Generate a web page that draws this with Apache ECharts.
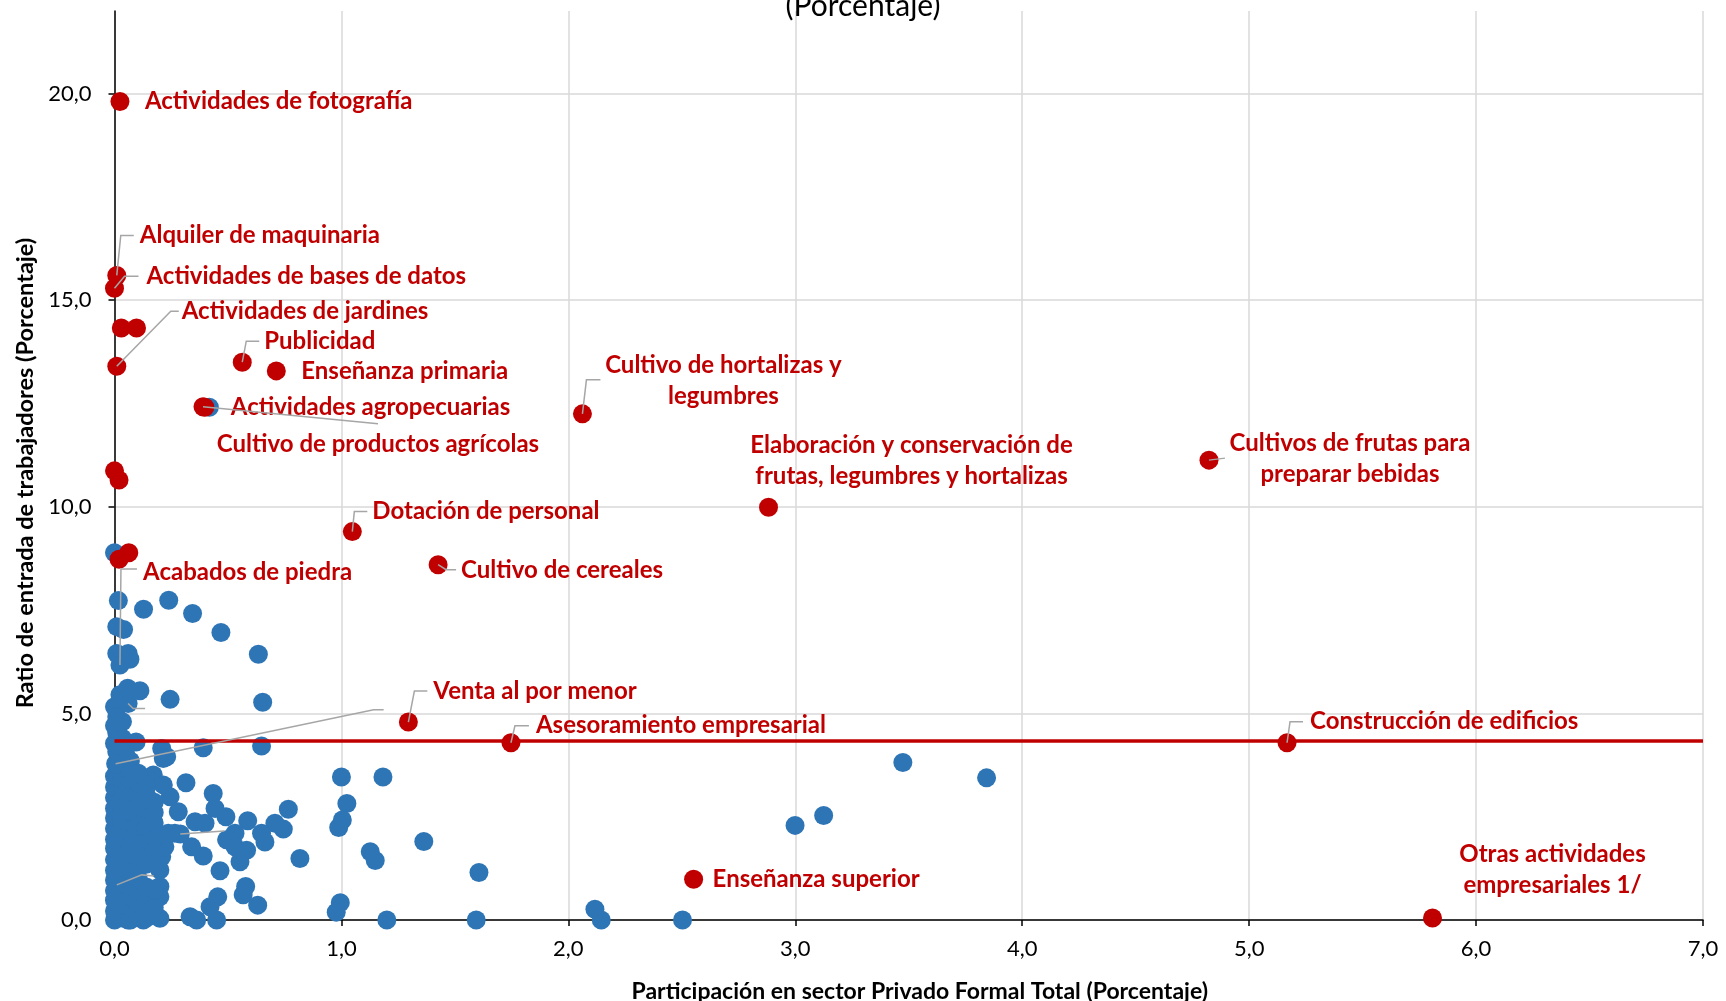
<!DOCTYPE html>
<html><head><meta charset="utf-8">
<script src="https://cdn.jsdelivr.net/npm/echarts@6/dist/echarts.min.js"></script>
<style>html,body{margin:0;padding:0;background:#fff}#c{width:1726px;height:1001px}</style>
</head><body><div id="c"></div>
<script>
// ---------- DATA ----------
const xTicks = [0, 1, 2, 3, 4, 5, 6, 7];
const yTicks = [0, 5, 10, 15, 20];
const yMax = 22;
const avgRatio = 4.33;

const highlightNames = [
  'Actividades de fotografía', 'Alquiler de maquinaria', 'Actividades de bases de datos',
  '', '', 'Actividades de jardines', 'Publicidad', 'Enseñanza primaria',
  'Actividades agropecuarias', 'Cultivo de productos agrícolas',
  'Cultivo de hortalizas y\nlegumbres', 'Elaboración y conservación de\nfrutas, legumbres y hortalizas',
  'Cultivos de frutas para\npreparar bebidas', 'Dotación de personal', 'Cultivo de cereales',
  '', '', 'Acabados de piedra', '', 'Venta al por menor', 'Asesoramiento empresarial',
  'Construcción de edificios', 'Enseñanza superior', 'Otras actividades\nempresariales 1/'
];
const highlightX = [0.024, 0.01, 0.0, 0.03, 0.097, 0.01, 0.563, 0.713, 0.398, 0.39,
  2.062, 2.882, 4.823, 1.048, 1.426, 0.0, 0.02, 0.02, 0.063, 1.295, 1.747, 5.167, 2.552, 5.808];
const highlightY = [19.81, 15.6, 15.29, 14.33, 14.33, 13.4, 13.5, 13.29, 12.41, 12.42,
  12.25, 9.99, 11.13, 9.40, 8.60, 10.87, 10.65, 8.73, 8.89, 4.79, 4.29, 4.29, 0.985, 0.05];

const otherPoints = [
  [0.0, 8.89], [0.418, 12.41],
  [0.017, 7.73], [0.128, 7.52], [0.239, 7.74], [0.344, 7.42], [0.469, 6.96], [0.634, 6.43],
  [0.01, 7.10], [0.04, 7.03], [0.01, 6.45], [0.06, 6.45], [0.068, 6.31],
  [0.058, 5.61], [0.112, 5.55], [0.024, 5.45], [0.245, 5.34], [0.653, 5.27], [0.0, 5.16],
  [0.01, 4.92], [0.01, 4.53], [0.095, 4.31], [0.208, 4.15], [0.391, 4.17], [0.648, 4.21],
  [0.01, 4.07], [0.05, 4.0], [0.23, 3.95], [0.215, 3.91],
  [1.0, 3.46], [1.183, 3.46], [1.024, 2.82], [1.004, 2.42], [0.988, 2.24], [1.127, 1.65],
  [1.149, 1.44], [1.363, 1.90], [1.606, 1.15], [0.817, 1.49], [0.995, 0.42], [0.977, 0.19],
  [1.2, 0.0], [1.594, 0.0], [2.117, 0.26], [2.145, 0.0], [2.503, 0.0], [2.999, 2.29],
  [3.125, 2.53], [3.474, 3.81], [3.843, 3.44],
  [0.171, 3.51], [0.215, 3.27], [0.315, 3.32], [0.435, 3.06], [0.245, 2.98], [0.149, 2.94],
  [0.766, 2.68], [0.443, 2.70], [0.491, 2.50], [0.281, 2.62], [0.355, 2.38], [0.399, 2.34],
  [0.587, 2.40], [0.707, 2.34], [0.744, 2.20], [0.648, 2.10], [0.663, 1.89], [0.531, 2.10],
  [0.494, 1.94], [0.531, 1.77], [0.582, 1.69], [0.553, 1.41], [0.391, 1.55], [0.34, 1.77],
  [0.266, 2.10], [0.465, 1.19], [0.578, 0.81], [0.567, 0.61], [0.631, 0.36], [0.455, 0.56],
  [0.421, 0.32], [0.45, 0.0], [0.333, 0.08], [0.362, 0.0], [0.2, 0.04], [0.127, 0.0],
  [0.06, 0.0], [0.2, 0.56], [0.2, 0.81], [0.2, 1.21], [0.208, 1.53], [0.222, 1.77], [0.237, 2.10],
  [0.0, 0.0], [0.0, 0.22], [0.0, 0.48], [0.0, 0.71], [0.0, 0.97], [0.0, 1.2], [0.0, 1.46],
  [0.0, 1.73], [0.0, 1.95], [0.0, 2.21], [0.0, 2.47], [0.0, 2.7], [0.0, 2.96], [0.0, 3.22],
  [0.0, 3.48], [0.0, 4.27], [0.0, 4.7],
  [0.035, 0.05], [0.035, 0.35], [0.035, 0.62], [0.035, 0.9], [0.035, 1.15], [0.035, 1.4],
  [0.035, 1.68], [0.035, 1.9], [0.035, 2.18], [0.035, 2.4], [0.035, 2.66], [0.035, 2.9],
  [0.035, 3.15], [0.035, 3.42], [0.035, 3.68], [0.035, 3.95], [0.035, 4.4], [0.035, 4.8],
  [0.07, 0.0], [0.07, 0.3], [0.07, 0.55], [0.07, 0.82], [0.07, 1.12], [0.07, 1.38],
  [0.07, 1.62], [0.07, 1.88], [0.07, 2.12], [0.07, 2.38], [0.07, 2.62], [0.07, 2.88],
  [0.07, 3.12], [0.07, 3.38], [0.07, 3.62], [0.07, 3.85],
  [0.105, 0.12], [0.105, 0.4], [0.105, 0.68], [0.105, 1.0], [0.105, 1.25], [0.105, 1.55],
  [0.105, 1.8], [0.105, 2.05], [0.105, 2.3], [0.105, 2.55], [0.105, 3.05], [0.105, 3.3], [0.105, 3.55],
  [0.14, 0.05], [0.14, 0.55], [0.14, 0.8], [0.14, 1.35], [0.14, 1.6], [0.14, 1.95],
  [0.14, 2.25], [0.14, 2.5], [0.14, 2.7], [0.14, 3.2],
  [0.175, 0.3], [0.175, 0.75], [0.175, 1.4], [0.175, 1.7], [0.175, 2.0], [0.175, 2.35],
  [0.175, 2.6], [0.175, 2.85]
];
// blue points that carry an empty leader line (label removed in the original)
const leaderOnlyPoints = [[0.024, 6.17], [0.005, 3.78], [0.29, 2.08], [0.01, 0.85], [0.06, 5.24]];

// ---------- LABEL / LEADER LAYOUT (pixel offsets from the point) ----------
const labelLayoutByName = {
  'Actividades de fotografía': { dx: 25, dy: 0 },
  'Alquiler de maquinaria': { dx: 23, dy: -40, line: [[4, -40], [17, -40]] },
  'Actividades de bases de datos': { dx: 32, dy: -12, line: [[10, -12], [24, -12]] },
  'Actividades de jardines': { dx: 65, dy: -55, line: [[54, -55], [62, -55]] },
  'Publicidad': { dx: 22, dy: -21, line: [[4, -21], [17, -21]] },
  'Enseñanza primaria': { dx: 25, dy: 0 },
  'Actividades agropecuarias': { dx: 26, dy: 0 },
  'Cultivo de productos agrícolas': { dx: 175, dy: 37, align: 'center', line: [[175, 17]] },
  'Cultivo de hortalizas y\nlegumbres': { dx: 141, dy: -33, align: 'center', line: [[4, -34], [18, -34]] },
  'Elaboración y conservación de\nfrutas, legumbres y hortalizas': { dx: 143, dy: -46, align: 'center' },
  'Cultivos de frutas para\npreparar bebidas': { dx: 141, dy: -1, align: 'center', line: [[16, -2]] },
  'Dotación de personal': { dx: 20, dy: -20, line: [[2, -20], [15, -20]] },
  'Cultivo de cereales': { dx: 23, dy: 6, line: [[8, 5], [18, 5]] },
  'Acabados de piedra': { dx: 24, dy: 13 },
  'Venta al por menor': { dx: 25, dy: -31, line: [[6, -31], [19, -31]] },
  'Asesoramiento empresarial': { dx: 25, dy: -17, line: [[4, -17], [18, -17]] },
  'Construcción de edificios': { dx: 23, dy: -21, line: [[3, -21], [16, -21]] },
  'Enseñanza superior': { dx: 19, dy: 0 },
  'Otras actividades\nempresariales 1/': { dx: 120, dy: -48, align: 'center' }
};
const emptyLeaderLines = [
  [[1, -96], [17, -96]],
  [[258, -54], [268, -54]],
  [[44, -3]],
  [[25, -10], [37, -9]],
  [[5, 5], [17, 5]]
];

// ---------- CHART ----------
const RED = '#C00000', BLUE = '#2E75B6';
const FONT = 'Lato';
const fmt = v => v.toFixed(1).replace('.', ',');
const highlightData = highlightNames.map((n, i) => ({ name: n, value: [highlightX[i], highlightY[i]] }));

const chart = echarts.init(document.getElementById('c'), null, { renderer: 'canvas' });
const option = {
  animation: false,
  backgroundColor: '#fff',
  textStyle: { fontFamily: FONT },
  title: {
    text: '(Porcentaje)', left: 'center', top: -14,
    textStyle: { fontFamily: FONT, fontSize: 30, fontWeight: 'normal', color: '#000' }
  },
  grid: { left: 114.5, right: 23, top: 11, bottom: 81, outerBoundsMode: 'none', containLabel: false },
  xAxis: {
    type: 'value', min: xTicks[0], max: xTicks[xTicks.length - 1], interval: 1,
    name: 'Participación en sector Privado Formal Total (Porcentaje)',
    nameLocation: 'middle', nameGap: 60,
    nameTextStyle: { fontFamily: FONT, fontSize: 23, fontWeight: 'bold', color: '#000', padding: [0, 0, 0, 22] },
    axisLine: { show: true, onZero: false, lineStyle: { color: '#000', width: 1.5 } },
    axisTick: { show: true, length: 6, lineStyle: { color: '#000', width: 1.5 } },
    axisLabel: { formatter: fmt, fontSize: 22, color: '#000', margin: 18, fontFamily: FONT },
    splitLine: { show: true, lineStyle: { color: '#d9d9d9', width: 1.5 } }
  },
  yAxis: {
    type: 'value', min: 0, max: yMax, interval: 5,
    name: 'Ratio de entrada de trabajadores (Porcentaje)',
    nameLocation: 'middle', nameGap: 74, nameRotate: 90,
    nameTextStyle: { fontFamily: FONT, fontSize: 23.5, fontWeight: 'bold', color: '#000', padding: [0, 15, 0, 0] },
    axisLine: { show: true, onZero: false, lineStyle: { color: '#000', width: 1.5 } },
    axisTick: { show: true, length: 6, customValues: yTicks, lineStyle: { color: '#000', width: 1.5 } },
    axisLabel: { formatter: fmt, fontSize: 22, color: '#000', margin: 23, customValues: yTicks, fontFamily: FONT },
    splitLine: { show: true, lineStyle: { color: '#d9d9d9', width: 1.5 } }
  },
  series: [
    {
      type: 'scatter', name: 'Otros', z: 2, symbolSize: 19,
      itemStyle: { color: BLUE, opacity: 1 },
      data: otherPoints,
      markLine: {
        silent: true, symbol: ['none', 'none'], z: 5,
        label: { show: false },
        lineStyle: { color: RED, width: 3.5, type: 'solid' },
        data: [{ yAxis: avgRatio }]
      }
    },
    {
      type: 'scatter', name: 'Guías', z: 2, symbolSize: 19,
      itemStyle: { color: BLUE, opacity: 1 },
      data: leaderOnlyPoints
    },
    {
      type: 'scatter', name: 'Destacados', z: 6, symbolSize: 19,
      itemStyle: { color: RED, opacity: 1 },
      data: highlightData,
      label: {
        show: true, formatter: p => p.name,
        fontFamily: FONT, fontSize: 24, fontWeight: 'bold', color: RED, lineHeight: 31
      },
      labelLayout: function (params) {
        const name = highlightNames[params.dataIndex];
        const cfg = labelLayoutByName[name];
        if (!cfg) return { x: -1000, y: -1000 };
        const cx = params.rect.x + params.rect.width / 2;
        const cy = params.rect.y + params.rect.height / 2;
        return { x: cx + cfg.dx, y: cy + cfg.dy, align: cfg.align || 'left', verticalAlign: 'middle' };
      }
    }
  ]
};
chart.setOption(option);

// leader lines drawn through the axes' pixel conversion
function leaderGraphics() {
  const els = [];
  const style = { stroke: '#a6a6a6', lineWidth: 1.5, fill: null };
  highlightNames.forEach((n, i) => {
    const cfg = labelLayoutByName[n];
    if (!cfg || !cfg.line) return;
    const p = chart.convertToPixel({ xAxisIndex: 0, yAxisIndex: 0 }, [highlightX[i], highlightY[i]]);
    els.push({ type: 'polyline', z: 20, silent: true,
      shape: { points: [p].concat(cfg.line.map(o => [p[0] + o[0], p[1] + o[1]])) }, style });
  });
  leaderOnlyPoints.forEach((pt, i) => {
    const p = chart.convertToPixel({ xAxisIndex: 0, yAxisIndex: 0 }, pt);
    els.push({ type: 'polyline', z: 20, silent: true,
      shape: { points: [p].concat(emptyLeaderLines[i].map(o => [p[0] + o[0], p[1] + o[1]])) }, style });
  });
  return els;
}
chart.setOption({ graphic: leaderGraphics() });
</script></body></html>
